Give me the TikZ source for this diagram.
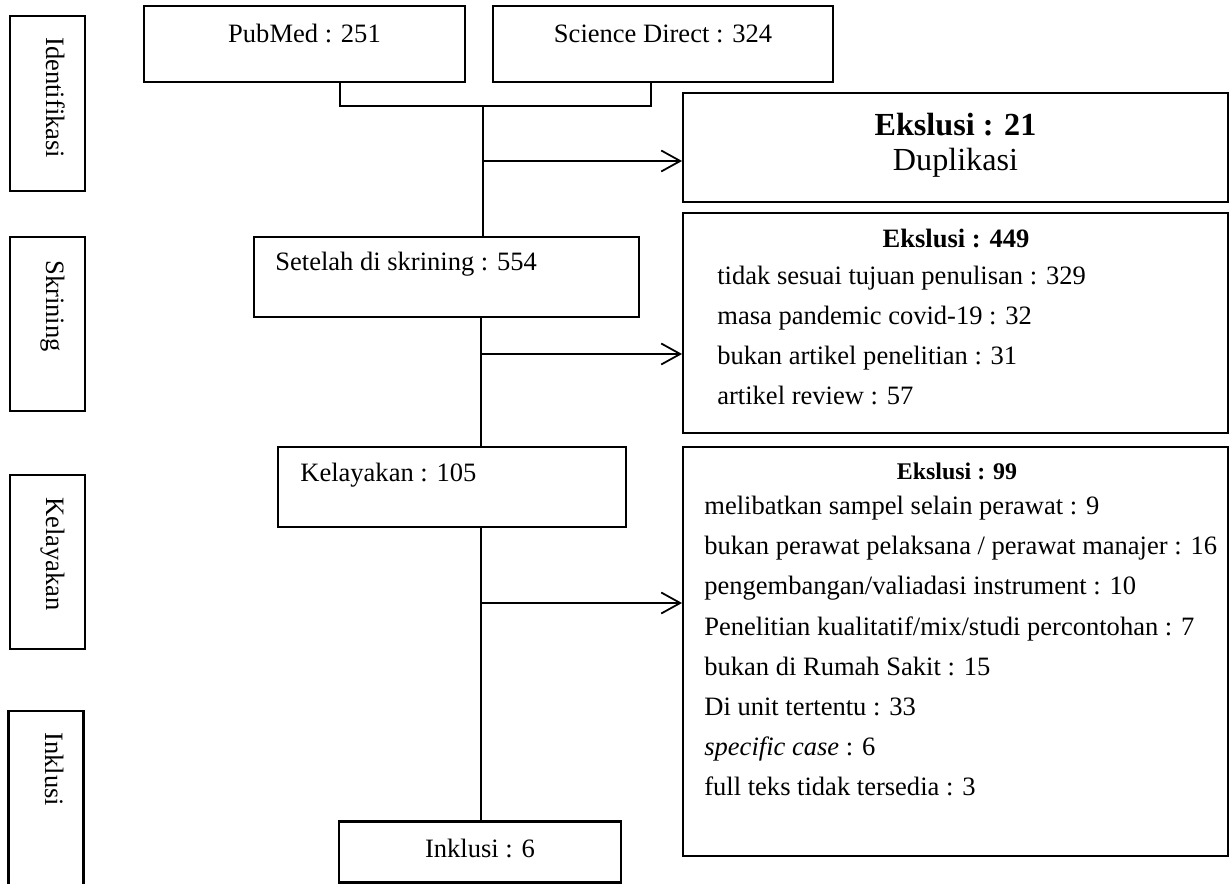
\documentclass[tikz,border=0pt]{standalone}
\usepackage{fontspec}
\setmainfont{Liberation Serif}
\usetikzlibrary{arrows.meta}

\begin{document}
\begin{tikzpicture}[x=0.02cm,y=-0.02cm,
  box/.style={draw,line width=1.15pt,inner sep=0pt},
  side/.style={box,minimum width=1.5cm},
  txt/.style={inner sep=0pt,font=\fontsize{15.1}{18}\selectfont},
  line/.style={line width=1pt},
  arr/.style={line,-{Straight Barb[length=0.38cm,width=0.42cm]}}]
\useasboundingbox (0,0) rectangle (1230,884);

% stage labels on the left
\node[side,minimum height=3.5cm] (ident) at (47.5,103.5) {};
\node[side,minimum height=3.48cm] (skrin) at (47.5,324) {};
\node[side,minimum height=3.48cm] (kelay) at (47.5,562) {};
\node[side,minimum height=3.78cm] (inklu) at (46,805.5) {};
\node[txt,rotate=-90,anchor=base west] (identt) at (46,37) {Identifikasi};
\node[txt,rotate=-90,anchor=base west] (skrint) at (46,260) {Skrining};
\node[txt,rotate=-90,anchor=base west] (kelayt) at (46,497) {Kelayakan};
\node[txt,rotate=-90,anchor=base west] (inklut) at (45,732) {Inklusi};

% flow boxes
\node[box,minimum width=6.42cm,minimum height=1.52cm] (pubmed) at (304.5,44) {};
\node[box,minimum width=6.8cm,minimum height=1.52cm] (sd) at (663,44) {};
\node[box,minimum width=7.7cm,minimum height=1.6cm] (setelah) at (446.5,277) {};
\node[box,minimum width=6.96cm,minimum height=1.6cm] (layak) at (452,487) {};
\node[box,minimum width=5.64cm,minimum height=1.22cm] (inkl) at (480,852) {};
\node[txt,anchor=base] (pubmedt) at (304.5,43) {PubMed : 251};
\node[txt,anchor=base] (sdt) at (663,43) {Science Direct : 324};
\node[txt,anchor=base west] (setelaht) at (275,271) {Setelah di skrining : 554};
\node[txt,anchor=base west] (layakt) at (300,482) {Kelayakan : 105};
\node[txt,anchor=base] (inklt) at (480,857) {Inklusi : 6};

% exclusion boxes
\node[box,minimum width=10.9cm,minimum height=2.18cm] (ex21) at (955.5,147.5) {};
\node[box,minimum width=10.9cm,minimum height=4.4cm] (ex449) at (955.5,323) {};
\node[box,minimum width=10.9cm,minimum height=8.18cm] (ex99) at (955.5,651.5) {};

\node[txt,anchor=base,font=\fontsize{18.3}{22}\selectfont\bfseries] (ex21h) at (955.5,136) {Ekslusi : 21};
\node[txt,anchor=base,font=\fontsize{18.3}{22}\selectfont] (ex21t) at (955.5,171) {Duplikasi};

\node[txt,anchor=base,font=\fontsize{15.1}{18}\selectfont\bfseries] (ex449h) at (956,248) {Ekslusi : 449};
\node[txt,anchor=base west] (l1) at (717,285) {tidak sesuai tujuan penulisan : 329};
\node[txt,anchor=base west] (l2) at (717,325) {masa pandemic covid-19 : 32};
\node[txt,anchor=base west] (l3) at (717,365) {bukan artikel penelitian : 31};
\node[txt,anchor=base west] (l4) at (717,405) {artikel review : 57};

\node[txt,anchor=base,font=\fontsize{13.6}{16}\selectfont\bfseries] (ex99h) at (957,480) {Ekslusi : 99};
\node[txt,anchor=base west] (m1) at (704,515) {melibatkan sampel selain perawat : 9};
\node[txt,anchor=base west] (m2) at (704,555) {bukan perawat pelaksana / perawat manajer : 16};
\node[txt,anchor=base west] (m3) at (704,595) {pengembangan/valiadasi instrument : 10};
\node[txt,anchor=base west] (m4) at (704,635) {Penelitian kualitatif/mix/studi percontohan : 7};
\node[txt,anchor=base west] (m5) at (704,675) {bukan di Rumah Sakit : 15};
\node[txt,anchor=base west] (m6) at (704,715) {Di unit tertentu : 33};
\node[txt,anchor=base west] (m7) at (704,755) {\textit{specific case} : 6};
\node[txt,anchor=base west] (m8) at (704,795) {full teks tidak tersedia : 3};

% connectors
\coordinate (jl) at (340,106);
\coordinate (jr) at (651,106);
\coordinate (jm) at (483,106);
\coordinate (a1) at (483,161);
\coordinate (a2) at (481,354);
\coordinate (a3) at (481,603);
\draw[line] (pubmed.south -| jl) -- (jl) -- (jr) -- (sd.south -| jr);
\draw[line] (jm) -- (jm |- setelah.north);
\draw[arr] (a1) -- (a1 -| ex21.west);
\draw[line] (setelah.south -| a2) -- (layak.north -| a2);
\draw[arr] (a2) -- (a2 -| ex449.west);
\draw[line] (layak.south -| a3) -- (inkl.north -| a3);
\draw[arr] (a3) -- (a3 -| ex99.west);
\end{tikzpicture}
\end{document}
